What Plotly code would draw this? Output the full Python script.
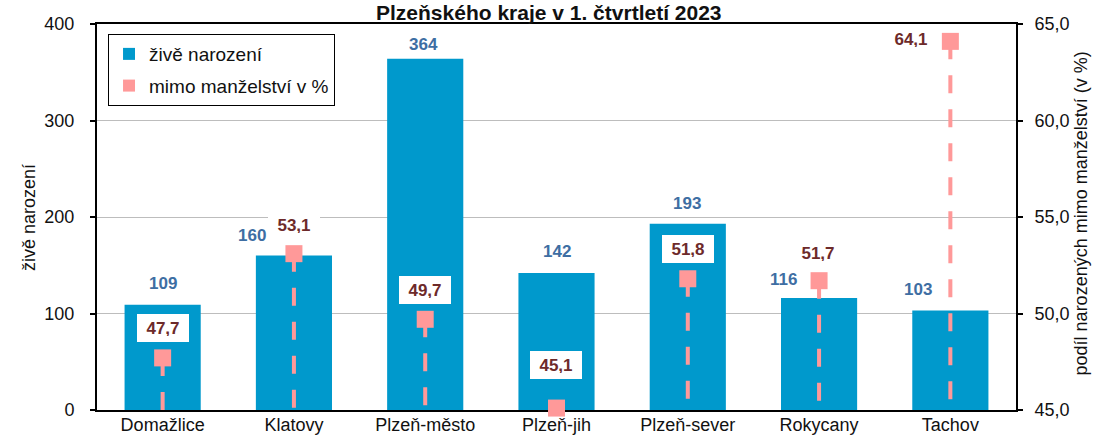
import plotly.graph_objects as go

categories = ["Domažlice", "Klatovy", "Plzeň-město", "Plzeň-jih", "Plzeň-sever", "Rokycany", "Tachov"]
births = [109, 160, 364, 142, 193, 116, 103]
outside_pct = [47.7, 53.1, 49.7, 45.1, 51.8, 51.7, 64.1]
left_ticks = [0, 100, 200, 300, 400]
right_ticks = [45, 50, 55, 60, 65]

BLUE = "#0099CC"
PINK = "#FF9999"
BLUE_TXT = "#3E6EA3"
RED_TXT = "#6D2A2A"
FONT = "Liberation Sans, Arial, sans-serif"

fig = go.Figure()

fig.add_trace(go.Bar(
    x=categories, y=births, name="živě narození",
    marker=dict(color=BLUE, line=dict(width=0)),
    legendgroup="a", yaxis="y",
))

for c, v in zip(categories, outside_pct):
    fig.add_trace(go.Scatter(
        x=[c, c], y=[v, right_ticks[0]], mode="lines",
        line=dict(color=PINK, width=4, dash="18px,16px"),
        showlegend=False, hoverinfo="skip", yaxis="y2", cliponaxis=False,
    ))

fig.add_trace(go.Scatter(
    x=categories, y=outside_pct, mode="markers", name="mimo manželství v %",
    marker=dict(symbol="square", size=17, color=PINK),
    legendgroup="b", yaxis="y2", cliponaxis=False,
))

# bar value labels (pixel offsets)
bar_shift = [(0, 21), (-42, 20), (-2, 14), (0, 21), (-1, 20), (-36, 19), (-32, 21)]
for c, v, (dx, dy) in zip(categories, births, bar_shift):
    fig.add_annotation(
        x=c, y=v, xref="x", yref="y", text=f"<b>{v}</b>", showarrow=False,
        xshift=dx, yshift=dy, yanchor="middle",
        font=dict(family=FONT, size=17, color=BLUE_TXT),
    )

# percentage labels
pct_shift = [(0, 29.5), (0, 29), (0, 29.5), (-1, 43), (0, 29.5), (-1, 28), (-39, 2)]
for c, v, (dx, dy) in zip(categories, outside_pct, pct_shift):
    fig.add_annotation(
        x=c, y=v, xref="x", yref="y2", text="<b>" + f"{v:.1f}".replace(".", ",") + "</b>",
        showarrow=False, xshift=dx, yshift=dy, yanchor="middle",
        bgcolor="white", borderpad=6, borderwidth=0, width=40, height=16,
        font=dict(family=FONT, size=17, color=RED_TXT),
    )

# axis titles
fig.add_annotation(x=-0.0871, y=0.5, xref="paper", yref="paper", text="živě narození",
                   textangle=-90, showarrow=False, font=dict(family=FONT, size=18, color="#111"))
fig.add_annotation(x=1.0841, y=0.51, xref="paper", yref="paper",
                   text="podíl narozených mimo manželství (v %)",
                   textangle=-90, showarrow=False, font=dict(family=FONT, size=18, color="#111"))
# title
fig.add_annotation(x=0.492, y=1.029, xref="paper", yref="paper",
                   text="<b>Plzeňského kraje v 1. čtvrtletí 2023</b>", showarrow=False,
                   yanchor="middle", font=dict(family=FONT, size=21, color="#111"))

fig.update_layout(
    template="none",
    width=1103, height=436,
    margin=dict(l=97, r=87, t=24, b=26, autoexpand=False),
    paper_bgcolor="white", plot_bgcolor="white",
    separators=", ",
    font=dict(family=FONT, size=18, color="#111"),
    bargap=0.42,
    showlegend=True,
    legend=dict(
        x=0.012, y=0.974, xanchor="left", yanchor="top",
        bgcolor="white", bordercolor="black", borderwidth=1,
        font=dict(family=FONT, size=19, color="#111"),
        itemsizing="constant", tracegroupgap=4, itemwidth=30,
        traceorder="grouped",
    ),
    xaxis=dict(
        automargin=False,
        showline=True, linecolor="black", linewidth=2, mirror=True,
        showgrid=False, ticks="", layer="below traces",
        ticklabelstandoff=-3,
        tickfont=dict(family=FONT, size=18, color="#111"),
    ),
    yaxis=dict(
        automargin=False,
        range=[left_ticks[0], left_ticks[-1]], tickvals=left_ticks,
        showline=True, linecolor="black", linewidth=2,
        ticks="outside", ticklen=5, tickcolor="black", tickwidth=2,
        showgrid=True, gridcolor="#BDBDBD", gridwidth=1, zeroline=False,
        ticklabelstandoff=12,
        tickfont=dict(family=FONT, size=18, color="#111"),
    ),
    yaxis2=dict(
        automargin=False,
        range=[right_ticks[0], right_ticks[-1]], tickvals=right_ticks, tickformat=".1f",
        overlaying="y", side="right",
        showline=True, linecolor="black", linewidth=2,
        ticks="outside", ticklen=5, tickcolor="black", tickwidth=2,
        showgrid=False, zeroline=False, ticklabelstandoff=8,
        tickfont=dict(family=FONT, size=18, color="#111"),
    ),
)

fig.write_html(
    "out.html",
    config={"displayModeBar": False},
    post_script="document.body.style.margin='0';document.body.style.overflow='hidden';",
)
